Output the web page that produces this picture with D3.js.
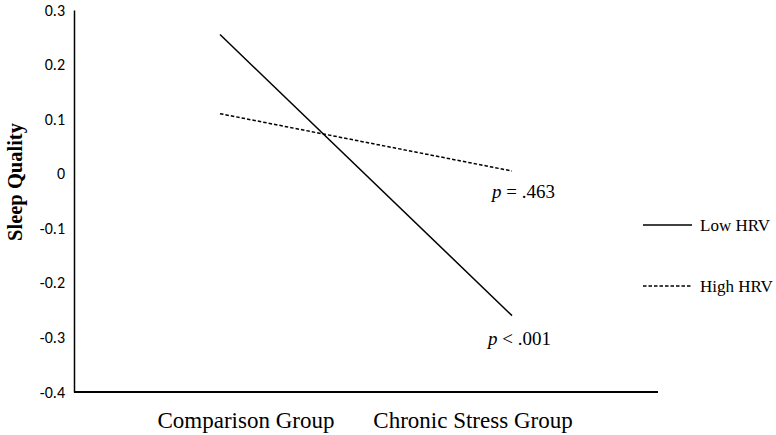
<!DOCTYPE html>
<html>
<head>
<meta charset="utf-8">
<script src="https://cdn.jsdelivr.net/npm/d3@7"></script>
<style>
body{margin:0;background:#fff;}
.tick text{font-family:Carlito,Calibri,"Liberation Sans",sans-serif;}
</style>
</head>
<body>
<script>
// data
var groups = ["Comparison Group", "Chronic Stress Group"];
var lowHRV = [0.255, -0.26];
var highHRV = [0.11, 0.005];
var yTicks = [0.3, 0.2, 0.1, 0, -0.1, -0.2, -0.3, -0.4];
var seriesNames = ["Low HRV", "High HRV"];
var pLabels = ["= .463", "< .001"];

var width = 776, height = 435;
var serif = "'Liberation Serif','Times New Roman',serif";
var svg = d3.select("body").append("svg")
	.attr("width", width)
	.attr("height", height);

var x = d3.scaleBand().domain(groups).range([74, 658]);
var y = d3.scaleLinear().domain([-0.4, 0.3]).range([392, 10]);

// y axis
var yAxis = svg.append("g")
	.attr("transform", "translate(74,0)")
	.call(d3.axisLeft(y).tickValues(yTicks).tickSize(0).tickPadding(9)
		.tickFormat(function(d){ return d === 0 ? "0" : d.toFixed(1); }));
yAxis.select(".domain").attr("stroke", "#000").attr("stroke-width", 1.5);
yAxis.selectAll("text").attr("font-size", 16).attr("fill", "#000");

// x axis line
svg.append("line")
	.attr("x1", 74).attr("x2", 658)
	.attr("y1", y(-0.4)).attr("y2", y(-0.4))
	.attr("stroke", "#000").attr("stroke-width", 2);

// category labels (shifted in the original, not centred on bands)
var labelX = [246, 473];
svg.selectAll(".cat")
	.data(groups)
	.enter()
	.append("text")
	.attr("class", "cat")
	.attr("x", function(d, i){ return labelX[i]; })
	.attr("y", 428)
	.attr("text-anchor", "middle")
	.attr("font-family", serif)
	.attr("font-size", 23)
	.text(function(d){ return d; });

// y title
svg.append("text")
	.attr("transform", "translate(22,182) rotate(-90)")
	.attr("text-anchor", "middle")
	.attr("font-family", serif)
	.attr("font-weight", "bold")
	.attr("font-size", 20.5)
	.text("Sleep Quality");

var line = d3.line()
	.x(function(d, i){ return x(groups[i]) + x.bandwidth() / 2; })
	.y(function(d){ return y(d); });

svg.append("path")
	.datum(lowHRV)
	.attr("d", line)
	.attr("fill", "none")
	.attr("stroke", "#000")
	.attr("stroke-width", 1.5);

svg.append("path")
	.datum(highHRV)
	.attr("d", line)
	.attr("fill", "none")
	.attr("stroke", "#000")
	.attr("stroke-width", 1.5)
	.attr("stroke-dasharray", "3.5,2");

// p value labels
var pPos = [[492, 198], [488, 345]];
pLabels.forEach(function(t, i){
	var tx = svg.append("text")
		.attr("x", pPos[i][0]).attr("y", pPos[i][1])
		.attr("font-family", serif)
		.attr("font-size", 19);
	tx.append("tspan").attr("font-style", "italic").text("p");
	tx.append("tspan").text(" " + t);
});

// legend
var legend = svg.selectAll(".legend")
	.data(seriesNames)
	.enter()
	.append("g")
	.attr("class", "legend")
	.attr("transform", function(d, i){ return "translate(643," + (225 + i * 61) + ")"; });

legend.append("line")
	.attr("x1", 0).attr("x2", 49)
	.attr("stroke", "#000")
	.attr("stroke-width", 1.5)
	.attr("stroke-dasharray", function(d, i){ return i == 1 ? "3.5,2" : null; });

legend.append("text")
	.attr("x", 57).attr("y", 6)
	.attr("font-family", serif)
	.attr("font-size", 17)
	.text(function(d){ return d; });
</script>
</body>
</html>
